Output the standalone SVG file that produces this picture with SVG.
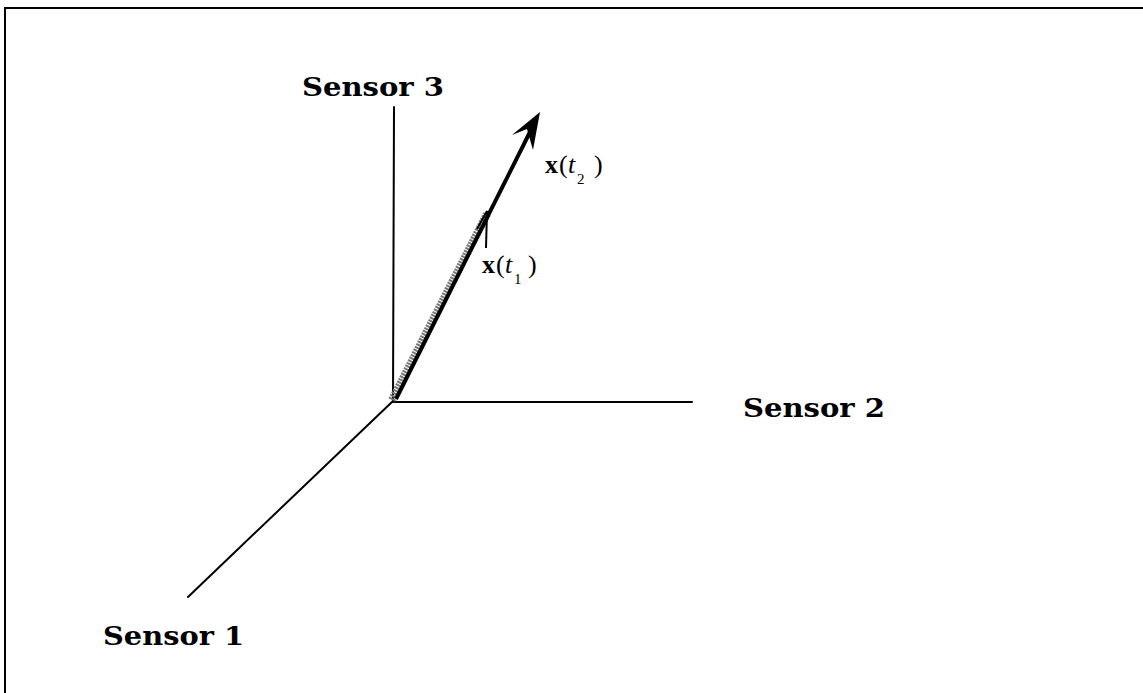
<svg xmlns="http://www.w3.org/2000/svg" width="1143" height="693" viewBox="0 0 1143 693">
<style>
.ax{stroke:#000;stroke-width:2;fill:none;stroke-linecap:round}
.lbl{font-family:"DejaVu Serif","Liberation Serif",serif;font-weight:bold;font-size:26px;fill:#000}
.vec{font-family:"Liberation Serif",serif;font-size:26px;fill:#000}
</style>
<rect width="1143" height="693" fill="#fff"/>
<path d="M5,693 L5,8 L1143,8" fill="none" stroke="#000" stroke-width="2"/>
<g id="axes">
<line class="ax" x1="394" y1="107" x2="393" y2="401"/>
<line class="ax" x1="393" y1="402" x2="692" y2="402"/>
<line class="ax" x1="393" y1="401" x2="188" y2="597"/>
</g>
<g id="vector-x1">
<line x1="392" y1="400" x2="487" y2="214" stroke="#777" stroke-width="8" stroke-dasharray="2 1"/>
<polyline points="477,229 487,211 486,248" fill="none" stroke="#000" stroke-width="2"/>
</g>
<g id="vector-x2">
<line x1="396" y1="399" x2="530" y2="132" stroke="#000" stroke-width="4"/>
<polygon points="540,112 512,135 527,129 533,150" fill="#000"/>
</g>
<g id="sensor3"><text class="lbl" x="302" y="96" textLength="142" lengthAdjust="spacingAndGlyphs">Sensor 3</text></g>
<g id="sensor2"><text class="lbl" x="743" y="417" textLength="142" lengthAdjust="spacingAndGlyphs">Sensor 2</text></g>
<g id="sensor1"><text class="lbl" x="103" y="645" textLength="141" lengthAdjust="spacingAndGlyphs">Sensor 1</text></g>
<g id="label-x2"><text class="vec" y="173"><tspan x="545" font-weight="bold">x</tspan><tspan x="559">(</tspan><tspan x="568" font-style="italic">t</tspan><tspan x="577" y="184" font-size="15">2</tspan><tspan x="594" y="173">)</tspan></text></g>
<g id="label-x1"><text class="vec" y="273"><tspan x="482" font-weight="bold">x</tspan><tspan x="496">(</tspan><tspan x="505" font-style="italic">t</tspan><tspan x="514" y="284" font-size="15">1</tspan><tspan x="528" y="273">)</tspan></text></g>
</svg>
